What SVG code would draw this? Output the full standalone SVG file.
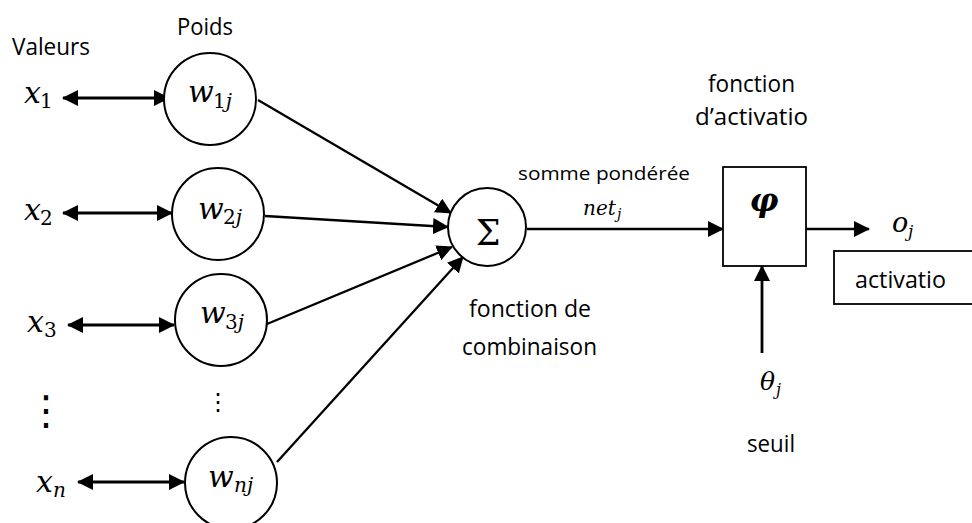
<svg xmlns="http://www.w3.org/2000/svg" width="972" height="523" viewBox="0 0 972 523">
<style>
.t{font-family:"Open Sans","Liberation Sans",sans-serif;fill:#000;font-size:23px}
.ts{font-family:"Open Sans","Liberation Sans",sans-serif;fill:#000;font-size:19px}
.m{font-family:"DejaVu Serif","Liberation Serif",serif;font-style:italic;fill:#000;font-size:30px}
.s{font-family:"DejaVu Serif","Liberation Serif",serif;font-style:normal;fill:#000;font-size:20px}
.si{font-style:italic}
.node{fill:#fff;stroke:#000;stroke-width:2}
.box{fill:#fff;stroke:#000;stroke-width:1.8}
.ln{stroke:#000;stroke-width:2.3;fill:none}
.thk{stroke-width:2.8}
.dbl{marker-start:url(#ah);marker-end:url(#ah)}
.one{marker-end:url(#ah)}
</style>
<defs>
<marker id="ah" markerUnits="userSpaceOnUse" markerWidth="16" markerHeight="16" viewBox="0 0 16 16" refX="15" refY="8" orient="auto-start-reverse">
<path d="M0,0 L16,8 L0,16 z" fill="#000"/>
</marker>
</defs>

<g id="labels">
<text class="t" x="12" y="55" textLength="78" lengthAdjust="spacingAndGlyphs">Valeurs</text>
<text class="t" x="177" y="35" textLength="56" lengthAdjust="spacingAndGlyphs">Poids</text>
</g>

<g id="inputs">
<g id="x1"><text class="m" x="24" y="103">x</text><text class="s" x="40" y="108">1</text></g>
<g id="x2"><text class="m" x="24" y="220">x</text><text class="s" x="40" y="225">2</text></g>
<g id="x3"><text class="m" x="27" y="332">x</text><text class="s" x="44" y="337">3</text></g>
<g id="xn"><text class="m" x="36" y="492">x</text><text class="s si" x="53" y="497">n</text></g>
<text id="dots-left" x="46" y="424" text-anchor="middle" style="font-family:'DejaVu Sans',sans-serif;font-size:40px">⋮</text>
<text id="dots-right" x="218" y="410" text-anchor="middle" style="font-family:'DejaVu Sans',sans-serif;font-size:24px">⋮</text>
</g>

<g id="connectors">
<line class="ln thk dbl" x1="63" y1="98" x2="169" y2="98"/>
<line class="ln thk dbl" x1="63" y1="213" x2="172" y2="213"/>
<line class="ln thk dbl" x1="68" y1="325" x2="174" y2="325"/>
<line class="ln thk dbl" x1="78" y1="482" x2="184" y2="482"/>
<line class="ln one" x1="258" y1="100" x2="451" y2="213"/>
<line class="ln one" x1="265" y1="216" x2="448" y2="227"/>
<line class="ln one" x1="267" y1="324" x2="452" y2="247"/>
<line class="ln one" x1="277" y1="462" x2="463" y2="257"/>
<line class="ln one" x1="527" y1="229" x2="723" y2="229"/>
<line class="ln one" x1="806" y1="229" x2="869" y2="229"/>
<line class="ln thk one" x1="762" y1="353" x2="762" y2="266"/>
</g>

<g id="w1j"><circle class="node" cx="210" cy="99" r="46"/><text class="m" x="188" y="102">w</text><text class="s" x="213" y="108">1<tspan class="si">j</tspan></text></g>
<g id="w2j"><circle class="node" cx="218" cy="214" r="46"/><text class="m" x="198" y="219">w</text><text class="s" x="223" y="224">2<tspan class="si">j</tspan></text></g>
<g id="w3j"><circle class="node" cx="221" cy="320" r="46"/><text class="m" x="200" y="323">w</text><text class="s" x="225" y="329">3<tspan class="si">j</tspan></text></g>
<g id="wnj"><circle class="node" cx="231" cy="483" r="46"/><text class="m" x="208" y="487">w</text><text class="s si" x="234" y="492">nj</text></g>

<g id="sum"><circle class="node" cx="487" cy="227" r="39"/><text x="488" y="245" text-anchor="middle" style="font-family:'DejaVu Serif','Liberation Serif',serif;font-size:35px">Σ</text></g>

<g id="sum-labels">
<text class="ts" x="518" y="180" textLength="172" lengthAdjust="spacingAndGlyphs">somme pondérée</text>
<text class="m" x="583" y="215" style="font-size:20px">net</text><text class="s si" x="617" y="219" style="font-size:14px">j</text>
<text class="t" x="469" y="317" textLength="122" lengthAdjust="spacingAndGlyphs">fonction de</text>
<text class="t" x="462" y="355" textLength="135" lengthAdjust="spacingAndGlyphs">combinaison</text>
</g>

<g id="activation">
<rect class="box" x="723" y="167" width="83" height="99"/>
<text x="764" y="211" text-anchor="middle" style="font-family:'DejaVu Serif','Liberation Serif',serif;font-style:italic;font-weight:bold;font-size:32px">φ</text>
<text class="t" x="708" y="92" textLength="87" lengthAdjust="spacingAndGlyphs">fonction</text>
<text class="t" x="695" y="125" textLength="113" lengthAdjust="spacingAndGlyphs">d’activatio</text>
</g>

<g id="output"><text class="m" x="892" y="232" style="font-size:27px">o</text><text class="s si" x="908" y="237" style="font-size:17px">j</text></g>

<g id="activatio-box"><rect class="box" x="834" y="251" width="160" height="53"/><text class="t" x="855" y="288" textLength="91" lengthAdjust="spacingAndGlyphs">activatio</text></g>

<g id="threshold">
<text class="m" x="760" y="390" style="font-size:25px">θ</text><text class="s si" x="776" y="395" style="font-size:16px">j</text>
<text class="t" x="747" y="452" textLength="48" lengthAdjust="spacingAndGlyphs">seuil</text>
</g>
</svg>
